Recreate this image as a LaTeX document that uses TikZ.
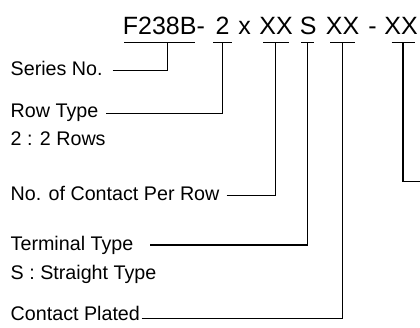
\documentclass[tikz,border=0pt]{standalone}
\usepackage{fontspec}
\setmainfont{Liberation Sans}
\begin{document}
\begin{tikzpicture}[x=1pt,y=-1pt,
  lbl/.style={anchor=base west,inner sep=0pt,font=\fontsize{19.7}{23}\selectfont},
  ttl/.style={anchor=base,inner sep=0pt,font=\fontsize{25}{30}\selectfont},
  ln/.style={line width=1.2pt,black}]
\useasboundingbox (0,0) rectangle (420,327);
% title
\node[ttl,anchor=base west] (tF) at (122.7,34) {F238B-};
\node[ttl] (t2) at (222.5,34) {2};
\node[ttl] (tx) at (244.5,34) {x};
\node[ttl] (tA) at (276,34) {XX};
\node[ttl] (tS) at (308.3,34) {S};
\node[ttl] (tB) at (342.6,34) {XX};
\node[ttl] (td) at (372.5,34) {-};
\node[ttl] (tC) at (401,34) {XX};
% labels
\node[lbl] (lser) at (10.5,75) {Series No.};
\node[lbl] (lrow) at (10.5,117.5) {Row Type};
\node[lbl] (lrow2) at (10.5,145.5) {2 : 2 Rows};
\node[lbl] (lnoc) at (10.5,200.5) {No. of Contact Per Row};
\node[lbl] (lter) at (10.5,250) {Terminal Type};
\node[lbl] (lter2) at (10.5,279.5) {S : Straight Type};
\node[lbl] (lcon) at (10.5,320.5) {Contact Plated};
% bars
\coordinate (b1l) at (124,42.5);   \coordinate (b1r) at (195.3,42.5); \coordinate (b1) at (167.5,42.5);
\coordinate (b2l) at (213,42.5);   \coordinate (b2r) at (232,42.5);   \coordinate (b2) at (222.8,42.5);
\coordinate (b3l) at (263,42.5);   \coordinate (b3r) at (288.5,42.5); \coordinate (b3) at (275.7,42.5);
\coordinate (b4l) at (301,42.5);   \coordinate (b4r) at (314,42.5);   \coordinate (b4) at (307.3,42.5);
\coordinate (b5l) at (330,42.5);   \coordinate (b5r) at (355,42.5);   \coordinate (b5) at (342.5,42.5);
\coordinate (b6l) at (391.5,42.5); \coordinate (b6r) at (414.5,42.5); \coordinate (b6) at (403,42.5);
\foreach \i in {1,...,6}{\draw[ln] (b\i l) -- (b\i r);}
% connector starts
\coordinate (s1) at (112.7,70.7);
\coordinate (s2) at (106,113.5);
\coordinate (s3) at (226.7,195.5);
\coordinate (s4) at (150,245);
\coordinate (s5) at (141.5,318.3);
\coordinate (e6) at (420,181.5);
\draw[ln] (s1) -| (b1);
\draw[ln] (s2) -| (b2);
\draw[ln] (s3) -| (b3);
\draw[ln] (s4) -| (b4);
\draw[ln] (s5) -| (b5);
\draw[ln] (b6) |- (e6);
\end{tikzpicture}
\end{document}
